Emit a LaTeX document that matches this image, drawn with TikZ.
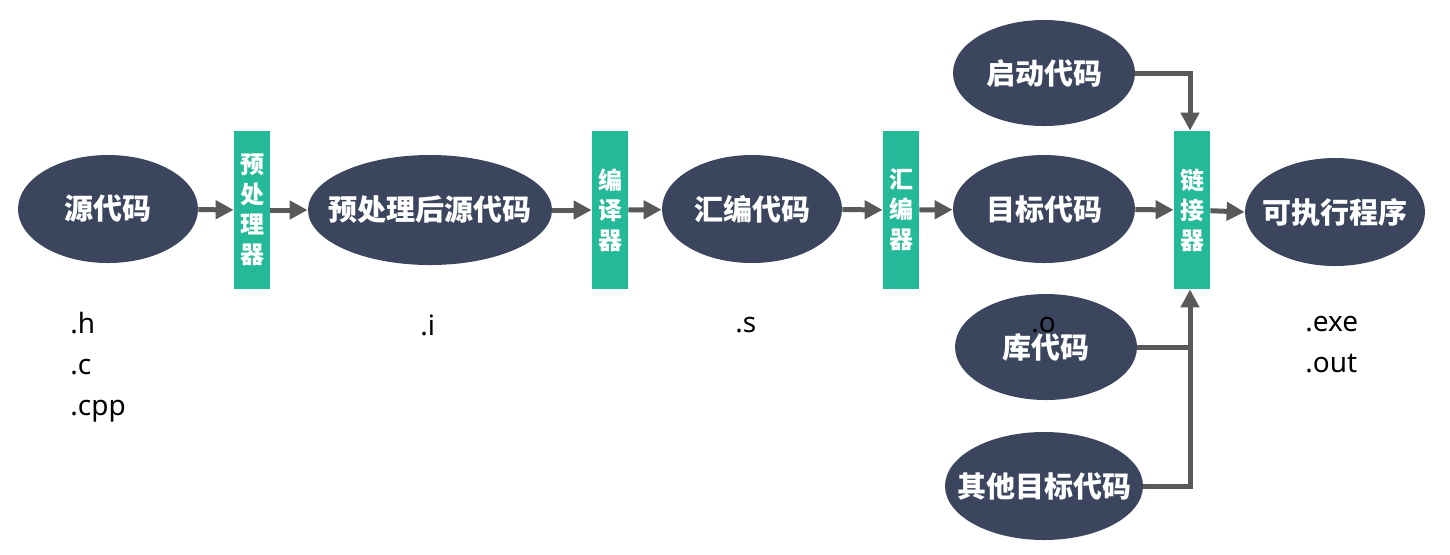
\documentclass[tikz,border=0pt]{standalone}
\usepackage{fontspec}
\setmainfont{Noto Sans}
\newfontfamily\cjk{Noto Sans CJK SC}
\usetikzlibrary{shapes.geometric,arrows.meta}
\definecolor{ellfill}{HTML}{3B465E}
\definecolor{boxfill}{HTML}{24B998}
\definecolor{arrgray}{HTML}{595959}
\tikzset{
  ell/.style={ellipse, fill=ellfill, inner sep=0pt, minimum width=90pt, minimum height=54pt},
  elltext/.style={text=white, inner sep=0pt, font=\cjk\bfseries\fontsize{14.5}{16}\selectfont},
  gbox/.style={rectangle, fill=boxfill, inner sep=0pt, minimum width=18pt, minimum height=79pt, text=white, align=center, font=\cjk\bfseries\fontsize{12}{15}\selectfont},
  ext/.style={anchor=west, inner sep=0pt, align=left, font=\fontsize{14}{20.5}\selectfont},
  conn/.style={draw=arrgray, line width=2.5pt, -{Triangle[length=9pt,width=9pt]}},
  plain/.style={draw=arrgray, line width=2.5pt}
}
\begin{document}
\begin{tikzpicture}[x=0.5pt,y=-0.5pt]
\useasboundingbox (0,0) rectangle (1450,554);
\node[ell, label={[elltext]center:源代码}] (src) at (108,209) {};
\node[gbox] (pre) at (252,210) {预\\处\\理\\器};
\node[ell, minimum width=122pt, minimum height=55pt, label={[elltext]center:预处理后源代码}] (pp) at (430,210) {};
\node[gbox] (cc) at (610,210) {编\\译\\器};
\node[ell, label={[elltext]center:汇编代码}] (asm) at (752,209) {};
\node[gbox] (as) at (901,210) {汇\\编\\器};
\node[ell, minimum width=91pt, label={[elltext]center:目标代码}] (obj) at (1044,209) {};
\node[gbox] (ld) at (1192,210) {链\\接\\器};
\node[ell, label={[elltext]center:可执行程序}] (exe) at (1335,212) {};
\node[ell, minimum width=91pt, minimum height=53pt, label={[elltext]center:启动代码}] (start) at (1044,73) {};
\node[ell, minimum width=91pt, minimum height=53pt, label={[elltext]center:库代码}] (lib) at (1046,347) {};
\node[ell, minimum width=99pt, label={[elltext]center:其他目标代码}] (other) at (1044,486) {};

\node[ext] (e1) at (70,367) {.h\\.c\\.cpp};
\node[ext] (e2) at (420,325) {.i};
\node[ext] (e3) at (735,325) {.s};
\node[ext] (e4) at (1031,325) {.o};
\node[ext] (e5) at (1305,345) {.exe\\.out};

\draw[conn] (src) -- (pre);
\draw[conn] (pre) -- (pp);
\draw[conn] (pp) -- (cc);
\draw[conn] (cc) -- (asm);
\draw[conn] (asm) -- (as);
\draw[conn] (as) -- (obj);
\draw[conn] (obj) -- (ld);
\draw[conn] (ld) -- (exe.west);
\coordinate (jt) at (1190,73);
\coordinate (jl) at (1190,347);
\coordinate (jo) at (1190,486);
\draw[conn] (start.east) -- (jt) -- (ld.north -| jt);
\draw[plain] (lib.east) -- (jl);
\draw[conn] (other.east) -- (jo) -- (ld.south -| jo);
\end{tikzpicture}
\end{document}
